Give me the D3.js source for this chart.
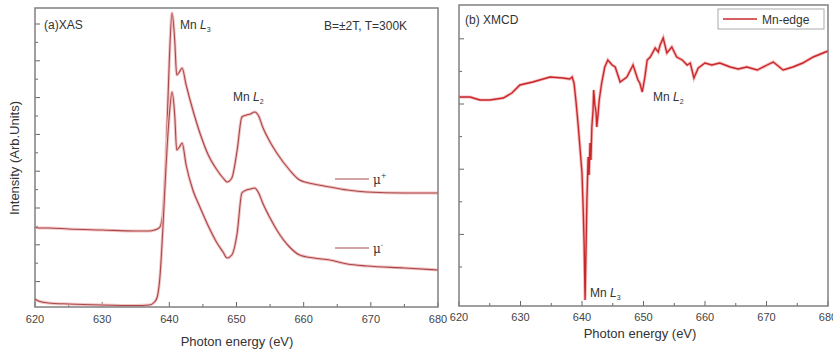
<!DOCTYPE html>
<html>
<head>
<meta charset="utf-8">
<script src="https://cdn.jsdelivr.net/npm/d3@7/dist/d3.min.js"></script>
<style>
  body { margin: 0; background: #fff; }
  svg { font-family: "Liberation Sans", Arial, sans-serif; }
  .frame { fill: none; stroke: #808080; stroke-width: 1.5; }
  .tick-line { stroke: #666; stroke-width: 1; }
  .tick-label { font-size: 11px; fill: #444; text-anchor: middle; }
  .axis-title { font-size: 13px; fill: #333; text-anchor: middle; }
  .note { font-size: 12px; fill: #333; }
</style>
</head>
<body>
<svg id="chart" width="833" height="353"></svg>
<script>
// photon energies (eV) for the XAS spectra
const xasEnergy = [620, 620.5, 622, 625, 630, 635, 637, 637.8, 638.2, 638.6, 639.05, 639.5, 640, 640.4, 640.8,
  641.1, 641.5, 641.9, 642.5, 643.5, 644.55, 645.8, 647.1, 648.0, 648.6, 649.3, 650.1, 650.8, 651.5, 652.1,
  652.7, 653.3, 653.9, 655.0, 656.0, 657.9, 659.4, 661.5, 663.9, 666.5, 669.4, 675, 680];
// mu+ (offset upward)
const muPlus = [0.80, 0.79, 0.79, 0.78, 0.77, 0.76, 0.76, 0.77, 0.78, 0.80, 0.95, 1.50, 2.47, 2.94, 2.67,
  2.32, 2.35, 2.39, 2.22, 1.97, 1.74, 1.52, 1.37, 1.29, 1.25, 1.29, 1.57, 1.90, 1.92, 1.93,
  1.95, 1.91, 1.80, 1.65, 1.54, 1.37, 1.27, 1.23, 1.20, 1.17, 1.15, 1.14, 1.14];
// mu-
const muMinus = [0.08, 0.06, 0.04, 0.03, 0.02, 0.015, 0.02, 0.05, 0.10, 0.30, 0.80, 1.40, 1.92, 2.15, 1.92,
  1.57, 1.60, 1.64, 1.42, 1.17, 1.00, 0.81, 0.64, 0.55, 0.49, 0.52, 0.74, 1.14, 1.17, 1.18,
  1.19, 1.14, 1.04, 0.89, 0.77, 0.60, 0.52, 0.49, 0.47, 0.43, 0.41, 0.39, 0.37];

// XMCD (Mn-edge)
const xmcdEnergy = [620.0, 621.8, 623.4, 625.0, 627.2, 628.6, 629.9, 632.0, 634.8, 636.9, 638.0, 638.4, 638.7,
  639.0, 639.2, 639.4, 639.7, 640.0, 640.2, 640.35, 640.5, 640.65, 640.8, 641.0, 641.15, 641.3, 641.45,
  641.6, 641.8, 641.9, 642.1, 642.3, 642.4, 642.6, 642.8, 643.2, 643.7, 644.2, 644.9, 645.4, 646.2, 647.3,
  648.3, 649.1, 649.4, 649.8, 650.2, 650.6, 651.1, 651.9, 652.4, 652.7, 653.2, 653.8, 654.6, 655.4, 656.3,
  657.1, 657.6, 658.2, 658.9, 660.0, 661.1, 662.4, 664.1, 665.4, 666.8, 668.5, 670.1, 671.1, 672.7, 674.3,
  675.9, 677.6, 679.2, 680.0];
const xmcd = [0, 0, -0.03, -0.03, -0.01, 0.04, 0.12, 0.15, 0.20, 0.19, 0.18, 0.20, 0.14,
  -0.03, -0.16, -0.30, -0.53, -0.76, -1.13, -1.48, -2.03, -1.53, -1.03, -0.60, -0.78, -0.46, -0.63,
  -0.30, -0.13, 0.07, -0.08, -0.16, -0.30, -0.18, -0.03, 0.14, 0.30, 0.37, 0.32, 0.30, 0.15, 0.20,
  0.32, 0.17, 0.14, 0.05, 0.19, 0.37, 0.40, 0.49, 0.45, 0.52, 0.59, 0.44, 0.50, 0.40, 0.37,
  0.32, 0.34, 0.19, 0.29, 0.34, 0.32, 0.34, 0.30, 0.28, 0.30, 0.27, 0.32, 0.35, 0.27, 0.30,
  0.34, 0.40, 0.44, 0.46];

const xTicks = [620, 630, 640, 650, 660, 670, 680];
const xMinor = [625, 635, 645, 655, 665, 675];

const svg = d3.select('#chart');

// scales
const xA = d3.scaleLinear().domain([620, 680]).range([35, 438]);
const yA = d3.scaleLinear().domain([0, 2.99]).range([307, 8]);
const xB = d3.scaleLinear().domain([620, 680]).range([459, 828]);
const yB = d3.scaleLinear().domain([-2.09, 0.92]).range([306, 5]);

function drawXAxis(x, yBottom, labelY) {
  const g = svg.append('g');
  g.selectAll('.maj').data(xTicks).join('line')
    .attr('class', 'tick-line')
    .attr('x1', d => x(d)).attr('x2', d => x(d))
    .attr('y1', yBottom).attr('y2', yBottom - 5);
  g.selectAll('.min').data(xMinor).join('line')
    .attr('class', 'tick-line')
    .attr('x1', d => x(d)).attr('x2', d => x(d))
    .attr('y1', yBottom).attr('y2', yBottom - 3);
  g.selectAll('text').data(xTicks).join('text')
    .attr('class', 'tick-label')
    .attr('x', d => x(d)).attr('y', labelY)
    .text(d => d);
}

function drawYTicks(y, xLeft, vals) {
  svg.append('g').selectAll('line').data(vals).join('line')
    .attr('class', 'tick-line')
    .attr('x1', xLeft).attr('x2', (d, i) => xLeft + (i % 2 ? 5 : 3))
    .attr('y1', d => y(d)).attr('y2', d => y(d));
}

// ----- panel (a) XAS -----
drawYTicks(yA, 35, d3.range(0.07, 2.99, 0.184));
drawXAxis(xA, 307, 323);

const lineA = d3.line().curve(d3.curveMonotoneX)
  .x(d => xA(d[0])).y(d => yA(d[1]));

[muPlus, muMinus].forEach(series => {
  const pts = xasEnergy.map((e, i) => [e, series[i]]);
  svg.append('path').datum(pts).attr('d', lineA)
    .attr('fill', 'none').attr('stroke', '#f2c4c4').attr('stroke-width', 3);
  svg.append('path').datum(pts).attr('d', lineA)
    .attr('fill', 'none').attr('stroke', '#a9484a').attr('stroke-width', 1.1);
});

svg.append('rect').attr('class', 'frame')
  .attr('x', 35).attr('y', 8).attr('width', 403).attr('height', 299);

svg.append('text').attr('class', 'note').attr('x', 44).attr('y', 29).text('(a)XAS');
svg.append('text').attr('class', 'note').attr('x', 324).attr('y', 30).text('B=±2T, T=300K');

const l3 = svg.append('text').attr('class', 'note').attr('x', 180).attr('y', 29);
l3.append('tspan').text('Mn ');
l3.append('tspan').attr('font-style', 'italic').text('L');
l3.append('tspan').attr('font-size', 7).attr('dy', 3).text('3');

const l2 = svg.append('text').attr('class', 'note').attr('x', 233).attr('y', 101);
l2.append('tspan').text('Mn ');
l2.append('tspan').attr('font-style', 'italic').text('L');
l2.append('tspan').attr('font-size', 7).attr('dy', 3).text('2');

// legend marks for mu+ / mu-
[[179, '+'], [248, '-']].forEach(([yy, sign]) => {
  svg.append('line').attr('x1', 335).attr('x2', 369).attr('y1', yy).attr('y2', yy)
    .attr('stroke', '#a9484a').attr('stroke-width', 1);
  const t = svg.append('text').attr('x', 373).attr('y', yy + 5)
    .attr('font-family', 'DejaVu Serif, serif').attr('font-size', 12).attr('fill', '#333');
  t.append('tspan').text('μ');
  t.append('tspan').attr('font-size', 7).attr('dy', -6).text(sign);
});

svg.append('text').attr('class', 'axis-title')
  .attr('transform', 'translate(19,158) rotate(-90)')
  .attr('font-size', 12).text('Intensity (Arb.Units)');
svg.append('text').attr('class', 'axis-title')
  .attr('x', 237).attr('y', 346).text('Photon energy (eV)');

// ----- panel (b) XMCD -----
drawYTicks(yB, 459, d3.range(-1.70, 0.9, 0.326));
drawXAxis(xB, 306, 321);

const lineB = d3.line()
  .x(d => xB(d[0])).y(d => yB(d[1]));
const ptsB = xmcdEnergy.map((e, i) => [e, xmcd[i]]);
svg.append('path').datum(ptsB).attr('d', lineB)
  .attr('fill', 'none').attr('stroke', '#f6bcbc').attr('stroke-width', 3.2);
svg.append('path').datum(ptsB).attr('d', lineB)
  .attr('fill', 'none').attr('stroke', '#c8282c').attr('stroke-width', 1.4);

svg.append('rect').attr('class', 'frame')
  .attr('x', 459).attr('y', 5).attr('width', 369).attr('height', 301);

svg.append('text').attr('class', 'note').attr('x', 465).attr('y', 24).text('(b) XMCD');

// legend
svg.append('rect').attr('x', 718).attr('y', 9).attr('width', 106).attr('height', 20)
  .attr('fill', '#fff').attr('stroke', '#aaa').attr('stroke-width', 1);
svg.append('line').attr('x1', 723).attr('x2', 757).attr('y1', 19).attr('y2', 19)
  .attr('stroke', '#c8282c').attr('stroke-width', 1.6);
svg.append('text').attr('class', 'note').attr('x', 762).attr('y', 24).text('Mn-edge');

const bl2 = svg.append('text').attr('class', 'note').attr('x', 653).attr('y', 101);
bl2.append('tspan').text('Mn ');
bl2.append('tspan').attr('font-style', 'italic').text('L');
bl2.append('tspan').attr('font-size', 7).attr('dy', 3).text('2');

const bl3 = svg.append('text').attr('class', 'note').attr('x', 590).attr('y', 297);
bl3.append('tspan').text('Mn ');
bl3.append('tspan').attr('font-style', 'italic').text('L');
bl3.append('tspan').attr('font-size', 7).attr('dy', 3).text('3');

svg.append('text').attr('class', 'axis-title')
  .attr('x', 640).attr('y', 338).text('Photon energy (eV)');
</script>
</body>
</html>
